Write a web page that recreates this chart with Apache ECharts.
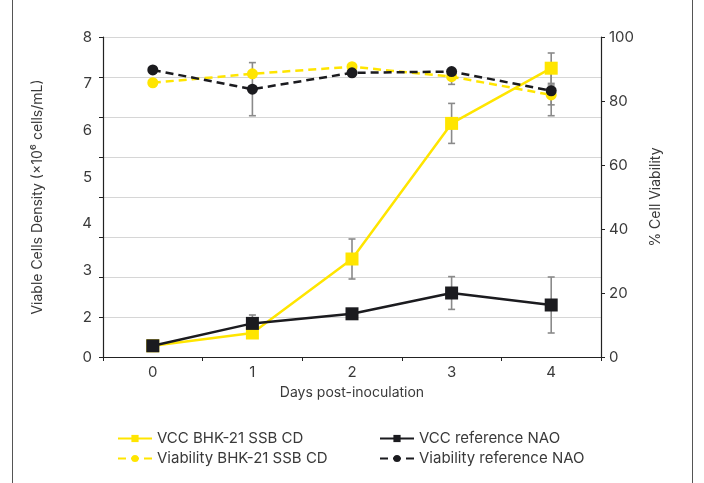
<!DOCTYPE html>
<html>
<head>
<meta charset="utf-8">
<script src="https://cdn.jsdelivr.net/npm/echarts@6/dist/echarts.min.js"></script>
<style>html,body{margin:0;padding:0;background:#fff}#c{width:704px;height:483px}</style>
</head>
<body>
<div id="c"></div>
<script>
// ---- data ----
const days = ['0', '1', '2', '3', '4'];
// Viable cell density, in units of the chart's gridlines (0-8)
const vccBHK = [0.28, 0.6, 2.45, 5.84, 7.22];
const vccBHKErr = [0, 0, 0.5, 0.5, 0.38];
const vccRef = [0.28, 0.84, 1.08, 1.6, 1.3];
const vccRefErr = [0, 0.21, 0, 0.41, 0.7];
// % cell viability
const viaBHK = [85.7, 88.5, 90.7, 87.6, 81.9];
const viaBHKErr = [0, 0, 0, 2.4, 3.1];
const viaRef = [89.7, 83.7, 88.8, 89.2, 83.2];
const viaRefErr = [0, 8.3, 0, 0, 7.8];
// left-axis tick labels as printed in the reference
const leftTickLabels = ['0', '2', '3', '4', '5', '6', '7', '8'];
const rightTicks = [0, 20, 40, 60, 80, 100];

const YEL = '#FFE500';
const BLK = '#1b1b1f';
const FONT = 'Inter';
const TXT = '#3a3a3a';

function errData(vals, errs) {
  const out = [];
  vals.forEach((v, i) => { if (errs[i] > 0) out.push([i, v - errs[i], v + errs[i]]); });
  return out;
}
function errSeries(vals, errs, yAxisIndex) {
  return {
    type: 'custom', yAxisIndex: yAxisIndex, z: 1, silent: true,
    data: errData(vals, errs),
    renderItem: function (params, api) {
      const x = api.value(0);
      const lo = api.coord([x, api.value(1)]);
      const hi = api.coord([x, api.value(2)]);
      const w = 3.5;
      const st = { stroke: '#8a8a8a', lineWidth: 1.6 };
      return { type: 'group', children: [
        { type: 'line', shape: { x1: lo[0], y1: lo[1], x2: hi[0], y2: hi[1] }, style: st },
        { type: 'line', shape: { x1: lo[0] - w, y1: lo[1], x2: lo[0] + w, y2: lo[1] }, style: st },
        { type: 'line', shape: { x1: hi[0] - w, y1: hi[1], x2: hi[0] + w, y2: hi[1] }, style: st }
      ]};
    }
  };
}

// label axis: "2".."8" evenly spaced, "0" placed one grid step below "2"
const labelAxisMin = 8 / 7;
const labelAxisValues = leftTickLabels.map(t => (t === '0' ? labelAxisMin : Number(t)));

const chart = echarts.init(document.getElementById('c'));
chart.setOption({
  animation: false,
  textStyle: { fontFamily: FONT },
  grid: { left: 103, right: 103, top: 37, bottom: 126 },
  xAxis: {
    type: 'category', data: days, boundaryGap: true,
    name: 'Days post-inoculation', nameLocation: 'middle', nameGap: 29,
    nameTextStyle: { fontSize: 14, color: TXT, fontFamily: FONT },
    axisLine: { lineStyle: { color: '#222', width: 1.2 } },
    axisTick: { show: true, length: 4, lineStyle: { color: '#222' } },
    axisLabel: { fontSize: 15, color: TXT, margin: 8, fontFamily: FONT },
    splitLine: { show: false }
  },
  yAxis: [
    {
      type: 'value', position: 'left', min: 0, max: 8, interval: 1,
      name: 'Viable Cells Density (×10⁶ cells/mL)', nameLocation: 'middle', nameGap: 58,
      nameTextStyle: { fontSize: 14, color: TXT, fontFamily: FONT },
      axisLine: { show: true, lineStyle: { color: '#222', width: 1.2 } },
      axisTick: { show: true, length: 4, lineStyle: { color: '#222' } },
      axisLabel: { show: false },
      splitLine: { show: true, lineStyle: { color: '#d6d6d6', width: 1 } }
    },
    {
      type: 'value', position: 'left', min: labelAxisMin, max: 8,
      axisLine: { show: false }, axisTick: { show: false }, splitLine: { show: false },
      axisLabel: {
        show: true, fontSize: 15, color: TXT, margin: 11, fontFamily: FONT,
        customValues: labelAxisValues,
        formatter: function (v) { return v < 2 ? '0' : String(Math.round(v)); }
      }
    },
    {
      type: 'value', position: 'right', min: 0, max: 100, interval: 20,
      name: '% Cell Viability', nameLocation: 'middle', nameGap: 48,
      nameTextStyle: { fontSize: 14, color: TXT, fontFamily: FONT },
      axisLine: { show: true, lineStyle: { color: '#222', width: 1.2 } },
      axisTick: { show: true, length: 4, lineStyle: { color: '#222' } },
      axisLabel: { fontSize: 15, color: TXT, margin: 8, fontFamily: FONT },
      splitLine: { show: false }
    }
  ],
  legend: [
    {
      orient: 'vertical', left: 112, top: 426, itemGap: 5, itemWidth: 34, itemHeight: 9,
      textStyle: { fontSize: 15, color: TXT, fontFamily: FONT },
      data: ['VCC BHK-21 SSB CD', 'Viability BHK-21 SSB CD']
    },
    {
      orient: 'vertical', left: 374, top: 426, itemGap: 5, itemWidth: 34, itemHeight: 9,
      textStyle: { fontSize: 15, color: TXT, fontFamily: FONT },
      data: ['VCC reference NAO', 'Viability reference NAO']
    }
  ],
  graphic: [
    { type: 'line', shape: { x1: 12.5, y1: 0, x2: 12.5, y2: 483 }, style: { stroke: '#555', lineWidth: 1 } },
    { type: 'line', shape: { x1: 692.5, y1: 0, x2: 692.5, y2: 483 }, style: { stroke: '#555', lineWidth: 1 } }
  ],
  series: [
    errSeries(vccBHK, vccBHKErr, 0),
    errSeries(vccRef, vccRefErr, 0),
    errSeries(viaBHK, viaBHKErr, 2),
    errSeries(viaRef, viaRefErr, 2),
    {
      name: 'VCC BHK-21 SSB CD', type: 'line', yAxisIndex: 0, data: vccBHK, z: 3,
      symbol: 'rect', symbolSize: 13,
      lineStyle: { color: YEL, width: 2.5 }, itemStyle: { color: YEL }
    },
    {
      name: 'VCC reference NAO', type: 'line', yAxisIndex: 0, data: vccRef, z: 4,
      symbol: 'rect', symbolSize: 13,
      lineStyle: { color: BLK, width: 2.5 }, itemStyle: { color: BLK }
    },
    {
      name: 'Viability BHK-21 SSB CD', type: 'line', yAxisIndex: 2, data: viaBHK, z: 3,
      symbol: 'circle', symbolSize: 11,
      lineStyle: { color: YEL, width: 2.5, type: [8, 5] }, itemStyle: { color: YEL }
    },
    {
      name: 'Viability reference NAO', type: 'line', yAxisIndex: 2, data: viaRef, z: 4,
      symbol: 'circle', symbolSize: 11,
      lineStyle: { color: BLK, width: 2.5, type: [8, 5] }, itemStyle: { color: BLK }
    }
  ]
});
</script>
</body>
</html>
